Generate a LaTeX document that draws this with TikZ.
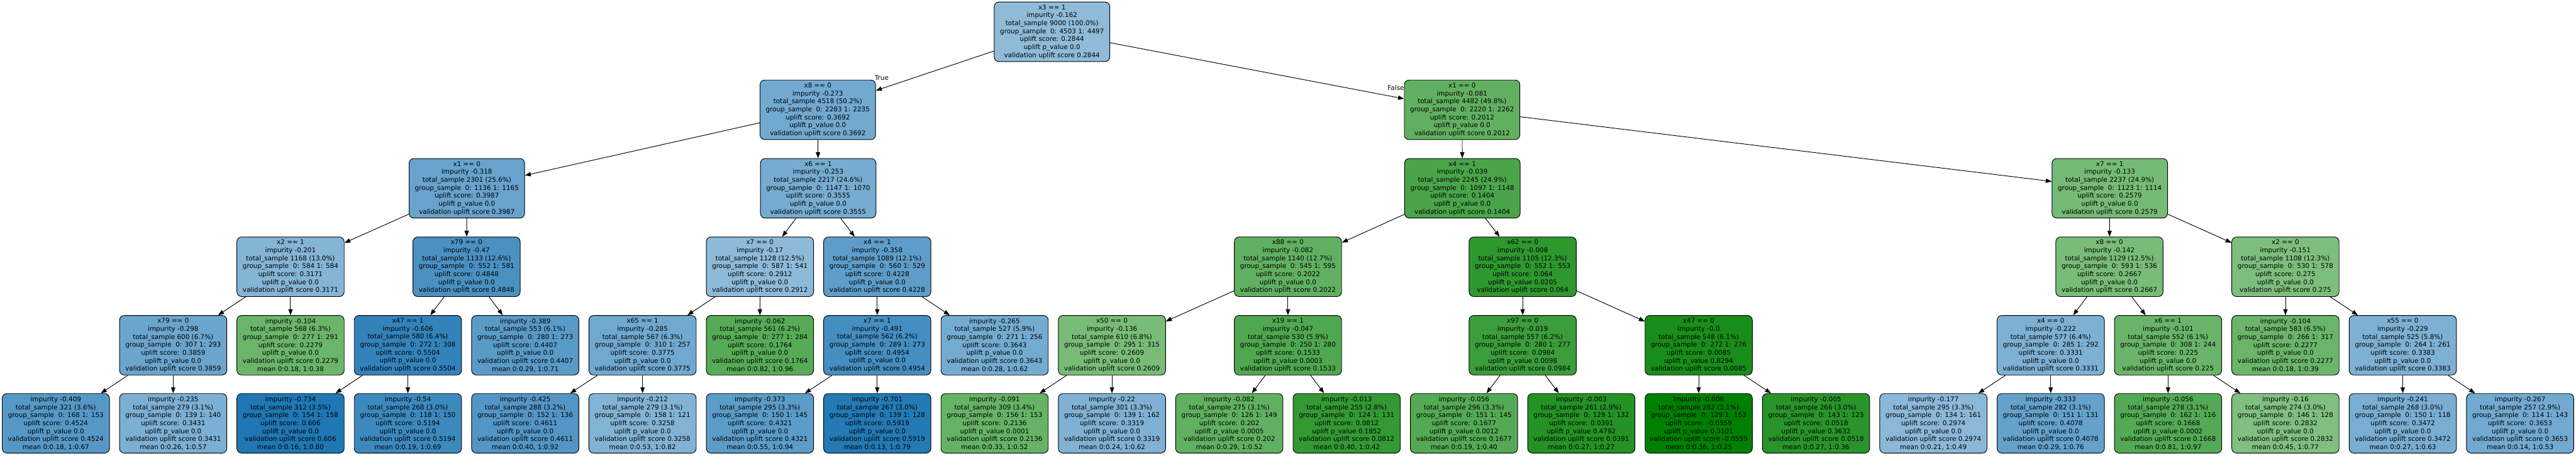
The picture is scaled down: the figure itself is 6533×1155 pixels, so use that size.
\documentclass[tikz,border=0pt]{standalone}
\usepackage{fontspec}
\setmainfont{DejaVu Sans}
\usetikzlibrary{arrows.meta}
\definecolor{tb}{HTML}{1F77B4}
\definecolor{tg}{HTML}{008000}
\newcommand{\tin}[6]{#1\\impurity #2\\total\_sample #3\\group\_sample\ \ #4\\uplift score: #5\\uplift p\_value #6\\validation uplift score #5}
\newcommand{\tlf}[6]{impurity #1\\total\_sample #2\\group\_sample\ \ #3\\uplift score: #4\\uplift p\_value #5\\validation uplift score #4\\mean #6}
\begin{document}
\begin{tikzpicture}[x=1pt,y=-1pt,
  box/.style={draw=black, line width=1.5pt, rounded corners=12pt, minimum width=272pt, minimum height=151pt, inner sep=0pt, align=center, font=\fontsize{16.6}{20.2}\selectfont},
  wide/.style={box, minimum width=293pt},
  edge/.style={draw=black, line width=1.5pt, -{Triangle[length=15pt,width=11pt]}},
  lbl/.style={inner sep=0pt, font=\fontsize{16.6}{20.2}\selectfont}]
\useasboundingbox (0,0) rectangle (6533,1155);
% depth 0
\node[wide, fill=tb!50] (r) at (2668,80.5) {\tin{x3 == 1}{-0.162}{9000 (100.0\%)}{0: 4503 1: 4497}{0.2844}{0.0}};
% depth 1
\node[wide, fill=tb!63] (a) at (2074,278.5) {\tin{x8 == 0}{-0.273}{4518 (50.2\%)}{0: 2283 1: 2235}{0.3692}{0.0}};
\node[wide, fill=tg!62] (b) at (3708,278.5) {\tin{x1 == 0}{-0.081}{4482 (49.8\%)}{0: 2220 1: 2262}{0.2012}{0.0}};
% depth 2
\node[wide, fill=tb!68] (aa) at (1184,477.5) {\tin{x1 == 0}{-0.318}{2301 (25.6\%)}{0: 1136 1: 1165}{0.3987}{0.0}};
\node[wide, fill=tb!61] (ab) at (2075,477.5) {\tin{x6 == 1}{-0.253}{2217 (24.6\%)}{0: 1147 1: 1070}{0.3555}{0.0}};
\node[wide, fill=tg!71] (ba) at (3708.6,477.5) {\tin{x4 == 1}{-0.039}{2245 (24.9\%)}{0: 1097 1: 1148}{0.1404}{0.0}};
\node[wide, fill=tg!54] (bb) at (5350.6,477.5) {\tin{x7 == 1}{-0.133}{2237 (24.9\%)}{0: 1123 1: 1114}{0.2579}{0.0}};
% depth 3
\node[box, fill=tb!55] (aaa) at (736.8,676.5) {\tin{x2 == 1}{-0.201}{1168 (13.0\%)}{0: 584 1: 584}{0.3171}{0.0}};
\node[box, fill=tb!81] (aab) at (1183.2,676.5) {\tin{x79 == 0}{-0.47}{1133 (12.6\%)}{0: 552 1: 581}{0.4848}{0.0}};
\node[box, fill=tb!51] (aba) at (1927.2,676.5) {\tin{x7 == 0}{-0.17}{1128 (12.5\%)}{0: 587 1: 541}{0.2912}{0.0}};
\node[box, fill=tb!72] (abb) at (2224.8,676.5) {\tin{x4 == 1}{-0.358}{1089 (12.1\%)}{0: 560 1: 529}{0.4228}{0.0}};
\node[box, fill=tg!62] (baa) at (3266.4,676.5) {\tin{x88 == 0}{-0.082}{1140 (12.7\%)}{0: 545 1: 595}{0.2022}{0.0}};
\node[box, fill=tg!82] (bab) at (3861.6,676.5) {\tin{x62 == 0}{-0.008}{1105 (12.3\%)}{0: 552 1: 553}{0.064}{0.0205}};
\node[box, fill=tg!53] (bba) at (5349.6,676.5) {\tin{x8 == 0}{-0.142}{1129 (12.5\%)}{0: 593 1: 536}{0.2667}{0.0}};
\node[box, fill=tg!51] (bbb) at (5796,676.5) {\tin{x2 == 0}{-0.151}{1108 (12.3\%)}{0: 530 1: 578}{0.275}{0.0}};
% depth 4
\node[box, fill=tb!66] (n1) at (439.2,875.5) {\tin{x79 == 0}{-0.298}{600 (6.7\%)}{0: 307 1: 293}{0.3859}{0.0}};
\node[box, fill=tg!58] (n2) at (736.8,875.5) {\tlf{-0.104}{568 (6.3\%)}{0: 277 1: 291}{0.2279}{0.0}{0:0.18, 1:0.38}};
\node[box, fill=tb!91] (n3) at (1034.4,875.5) {\tin{x47 == 1}{-0.606}{580 (6.4\%)}{0: 272 1: 308}{0.5504}{0.0}};
\node[box, fill=tb!74] (n4) at (1332,875.5) {\tlf{-0.389}{553 (6.1\%)}{0: 280 1: 273}{0.4407}{0.0}{0:0.29, 1:0.71}};
\node[box, fill=tb!64] (n5) at (1629.6,875.5) {\tin{x65 == 1}{-0.285}{567 (6.3\%)}{0: 310 1: 257}{0.3775}{0.0}};
\node[box, fill=tg!66] (n6) at (1927.2,875.5) {\tlf{-0.062}{561 (6.2\%)}{0: 277 1: 284}{0.1764}{0.0}{0:0.82, 1:0.96}};
\node[box, fill=tb!83] (n7) at (2224.8,875.5) {\tin{x7 == 1}{-0.491}{562 (6.2\%)}{0: 289 1: 273}{0.4954}{0.0}};
\node[box, fill=tb!62] (n8) at (2522.4,875.5) {\tlf{-0.265}{527 (5.9\%)}{0: 271 1: 256}{0.3643}{0.0}{0:0.28, 1:0.62}};
\node[box, fill=tg!53] (n9) at (2820,875.5) {\tin{x50 == 0}{-0.136}{610 (6.8\%)}{0: 295 1: 315}{0.2609}{0.0}};
\node[box, fill=tg!69] (n10) at (3266.4,875.5) {\tin{x19 == 1}{-0.047}{530 (5.9\%)}{0: 250 1: 280}{0.1533}{0.0003}};
\node[box, fill=tg!77] (n11) at (3861.6,875.5) {\tin{x97 == 0}{-0.019}{557 (6.2\%)}{0: 280 1: 277}{0.0984}{0.0098}};
\node[box, fill=tg!90] (n12) at (4308,875.5) {\tin{x47 == 0}{-0.0}{548 (6.1\%)}{0: 272 1: 276}{0.0085}{0.8294}};
\node[box, fill=tb!58] (n13) at (5200.8,875.5) {\tin{x4 == 0}{-0.222}{577 (6.4\%)}{0: 285 1: 292}{0.3331}{0.0}};
\node[box, fill=tg!59] (n14) at (5498.4,875.5) {\tin{x6 == 1}{-0.101}{552 (6.1\%)}{0: 308 1: 244}{0.225}{0.0}};
\node[box, fill=tg!58] (n15) at (5796,875.5) {\tlf{-0.104}{583 (6.5\%)}{0: 266 1: 317}{0.2277}{0.0}{0:0.18, 1:0.39}};
\node[box, fill=tb!58] (n16) at (6093.6,875.5) {\tin{x55 == 0}{-0.229}{525 (5.8\%)}{0: 264 1: 261}{0.3383}{0.0}};
% depth 5
\node[box, fill=tb!76] (l0) at (141.6,1073.5) {\tlf{-0.409}{321 (3.6\%)}{0: 168 1: 153}{0.4524}{0.0}{0:0.18, 1:0.67}};
\node[box, fill=tb!59] (l1) at (439.2,1073.5) {\tlf{-0.235}{279 (3.1\%)}{0: 139 1: 140}{0.3431}{0.0}{0:0.26, 1:0.57}};
\node[box, fill=tb!100] (l2) at (736.8,1073.5) {\tlf{-0.734}{312 (3.5\%)}{0: 154 1: 158}{0.606}{0.0}{0:0.16, 1:0.80}};
\node[box, fill=tb!87] (l3) at (1034.4,1073.5) {\tlf{-0.54}{268 (3.0\%)}{0: 118 1: 150}{0.5194}{0.0}{0:0.19, 1:0.69}};
\node[box, fill=tb!77] (l4) at (1332,1073.5) {\tlf{-0.425}{288 (3.2\%)}{0: 152 1: 136}{0.4611}{0.0}{0:0.40, 1:0.92}};
\node[box, fill=tb!56] (l5) at (1629.6,1073.5) {\tlf{-0.212}{279 (3.1\%)}{0: 158 1: 121}{0.3258}{0.0}{0:0.53, 1:0.82}};
\node[box, fill=tb!73] (l6) at (1927.2,1073.5) {\tlf{-0.373}{295 (3.3\%)}{0: 150 1: 145}{0.4321}{0.0}{0:0.55, 1:0.94}};
\node[box, fill=tb!98] (l7) at (2224.8,1073.5) {\tlf{-0.701}{267 (3.0\%)}{0: 139 1: 128}{0.5919}{0.0}{0:0.13, 1:0.79}};
\node[box, fill=tg!60] (l8) at (2522.4,1073.5) {\tlf{-0.091}{309 (3.4\%)}{0: 156 1: 153}{0.2136}{0.0001}{0:0.33, 1:0.52}};
\node[box, fill=tb!57] (l9) at (2820,1073.5) {\tlf{-0.22}{301 (3.3\%)}{0: 139 1: 162}{0.3319}{0.0}{0:0.24, 1:0.62}};
\node[box, fill=tg!62] (l10) at (3117.6,1073.5) {\tlf{-0.082}{275 (3.1\%)}{0: 126 1: 149}{0.202}{0.0005}{0:0.29, 1:0.52}};
\node[box, fill=tg!80] (l11) at (3415.2,1073.5) {\tlf{-0.013}{255 (2.8\%)}{0: 124 1: 131}{0.0812}{0.1852}{0:0.40, 1:0.42}};
\node[box, fill=tg!67] (l12) at (3712.8,1073.5) {\tlf{-0.056}{296 (3.3\%)}{0: 151 1: 145}{0.1677}{0.0012}{0:0.19, 1:0.40}};
\node[box, fill=tg!86] (l13) at (4010.4,1073.5) {\tlf{-0.003}{261 (2.9\%)}{0: 129 1: 132}{0.0391}{0.4792}{0:0.27, 1:0.27}};
\node[box, fill=tg!100] (l14) at (4308,1073.5) {\tlf{-0.006}{282 (3.1\%)}{0: 129 1: 153}{-0.0559}{0.3101}{0:0.36, 1:0.25}};
\node[box, fill=tg!84] (l15) at (4605.6,1073.5) {\tlf{-0.005}{266 (3.0\%)}{0: 143 1: 123}{0.0518}{0.3632}{0:0.27, 1:0.36}};
\node[box, fill=tb!52] (l16) at (4903.2,1073.5) {\tlf{-0.177}{295 (3.3\%)}{0: 134 1: 161}{0.2974}{0.0}{0:0.21, 1:0.49}};
\node[box, fill=tb!69] (l17) at (5200.8,1073.5) {\tlf{-0.333}{282 (3.1\%)}{0: 151 1: 131}{0.4078}{0.0}{0:0.29, 1:0.76}};
\node[box, fill=tg!67] (l18) at (5498.4,1073.5) {\tlf{-0.056}{278 (3.1\%)}{0: 162 1: 116}{0.1668}{0.0002}{0:0.81, 1:0.97}};
\node[box, fill=tg!50] (l19) at (5796,1073.5) {\tlf{-0.16}{274 (3.0\%)}{0: 146 1: 128}{0.2832}{0.0}{0:0.45, 1:0.77}};
\node[box, fill=tb!60] (l20) at (6093.6,1073.5) {\tlf{-0.241}{268 (3.0\%)}{0: 150 1: 118}{0.3472}{0.0}{0:0.27, 1:0.63}};
\node[box, fill=tb!63] (l21) at (6391.2,1073.5) {\tlf{-0.267}{257 (2.9\%)}{0: 114 1: 143}{0.3653}{0.0}{0:0.14, 1:0.53}};
% edge labels
\node[lbl] (ltrue) at (2236,198) {True};
\node[lbl] (lfalse) at (3540,222) {False};
% edges
\foreach \p/\c in {r/a, r/b, a/aa, a/ab, b/ba, b/bb,
  aa/aaa, aa/aab, ab/aba, ab/abb, ba/baa, ba/bab, bb/bba, bb/bbb,
  aaa/n1, aaa/n2, aab/n3, aab/n4, aba/n5, aba/n6, abb/n7, abb/n8,
  baa/n9, baa/n10, bab/n11, bab/n12, bba/n13, bba/n14, bbb/n15, bbb/n16,
  n1/l0, n1/l1, n3/l2, n3/l3, n5/l4, n5/l5, n7/l6, n7/l7, n9/l8, n9/l9,
  n10/l10, n10/l11, n11/l12, n11/l13, n12/l14, n12/l15, n13/l16, n13/l17,
  n14/l18, n14/l19, n16/l20, n16/l21}
  \draw[edge] (\p) -- (\c);
\end{tikzpicture}
\end{document}
